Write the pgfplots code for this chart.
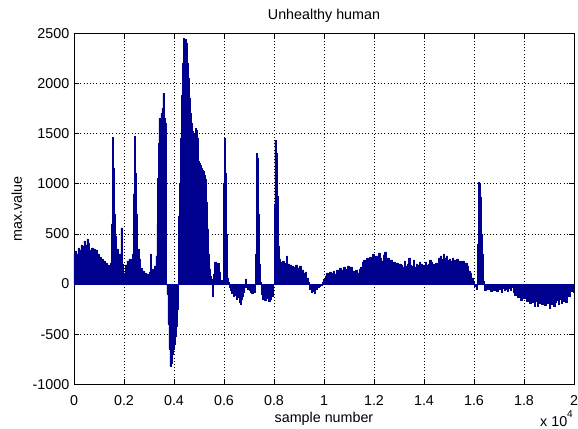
\documentclass[border=0pt]{standalone}
\usepackage{fontspec}
\setmainfont{Liberation Sans}
\usepackage{pgfplots}
\pgfplotsset{compat=1.18}
\usepackage{pgfplotstable}
\definecolor{barblue}{RGB}{0,0,143}
\newcommand\ff{\fontsize{14.3bp}{17bp}\selectfont}
\pgfplotstableread{
x y
0 300
40 330
100 300
160 360
220 340
280 390
340 380
400 430
460 390
520 450
580 410
620 340
700 360
780 350
860 340
940 300
1000 270
1080 250
1160 230
1240 210
1320 190
1400 170
1460 210
1500 600
1540 1460
1580 1150
1620 700
1660 480
1700 350
1760 260
1820 300
1880 560
1920 200
1960 60
2000 110
2060 190
2120 230
2200 250
2280 240
2340 300
2380 900
2420 1470
2460 1100
2500 700
2540 350
2600 250
2660 160
2720 130
2800 110
2880 100
2960 90
3020 120
3060 300
3100 150
3160 140
3220 180
3280 280
3320 600
3340 1050
3380 1400
3400 1650
3440 1600
3480 1700
3520 1750
3560 1900
3600 1650
3640 1600
3680 1150
3700 0
3720 -100
3760 -400
3800 -650
3840 -820
3880 -790
3920 -700
3960 -650
4000 -600
4040 -520
4080 -420
4120 -250
4160 680
4200 1000
4240 1450
4280 1880
4320 2200
4360 2450
4400 2420
4440 2440
4480 2400
4520 2200
4560 2050
4600 1850
4640 1700
4680 1600
4720 1520
4760 1480
4800 1500
4840 1550
4880 1530
4920 1450
4960 1220
5000 1200
5040 1180
5080 1150
5120 1130
5160 1120
5200 1080
5240 1040
5280 1000
5300 820
5340 550
5380 300
5420 150
5460 80
5500 50
5540 -120
5580 100
5620 220
5680 200
5740 210
5800 120
5860 40
5920 20
5960 300
5980 1000
6000 1450
6040 1100
6080 500
6120 60
6160 20
6200 -30
6240 -60
6300 -90
6360 -120
6420 -110
6480 -150
6540 -130
6600 -180
6640 -200
6680 -150
6720 -120
6760 -80
6800 -30
6840 50
6880 -30
6920 -50
6960 -30
7000 -60
7040 -80
7100 -90
7160 -80
7200 -60
7240 -80
7260 300
7280 900
7300 1300
7330 1250
7360 700
7400 200
7440 20
7480 -100
7520 -150
7600 -160
7680 -140
7760 -170
7840 -150
7900 -120
7960 0
8000 800
8030 1430
8070 1300
8110 880
8150 500
8180 380
8220 250
8260 220
8340 230
8400 200
8460 210
8500 280
8540 200
8620 190
8700 180
8780 170
8860 190
8940 160
9020 180
9100 140
9180 110
9240 120
9300 60
9360 20
9420 -50
9480 -80
9540 -70
9600 -90
9660 -50
9720 -30
9800 -20
9860 -10
9920 20
9980 50
10040 80
10100 110
10160 90
10220 120
10300 110
10360 130
10420 100
10500 140
10560 130
10620 160
10700 140
10780 170
10860 150
10940 180
11000 140
11060 170
11140 130
11200 110
11260 140
11320 110
11400 150
11460 170
11520 220
11580 240
11640 210
11700 260
11760 230
11820 270
11880 240
11940 300
12000 250
12060 280
12120 220
12180 310
12240 260
12300 230
12360 290
12420 320
12480 250
12540 260
12600 230
12660 240
12720 200
12780 220
12840 190
12900 210
12960 180
13020 200
13080 190
13140 170
13200 230
13260 180
13320 200
13380 260
13440 190
13500 180
13560 240
13620 170
13680 200
13740 190
13800 220
13860 200
13920 180
13980 190
14040 220
14100 190
14160 200
14220 240
14280 220
14340 200
14400 190
14460 210
14520 190
14580 260
14640 280
14700 250
14760 300
14820 260
14880 280
14940 240
15000 250
15060 230
15120 260
15180 240
15240 220
15300 250
15360 210
15420 230
15480 200
15540 230
15600 200
15660 210
15720 180
15780 130
15840 110
15900 60
15960 30
16020 -20
16080 -50
16120 -40
16140 400
16160 1010
16200 1000
16240 870
16280 500
16320 300
16360 30
16420 -60
16480 -40
16540 -50
16600 -20
16660 -70
16720 -40
16780 -60
16840 -30
16900 -70
16960 -40
17020 -50
17080 -80
17140 -40
17200 -60
17260 -50
17320 -70
17380 -40
17440 -60
17500 -30
17560 -80
17620 -110
17680 -90
17740 -130
17800 -100
17860 -160
17920 -120
17980 -140
18040 -110
18100 -170
18160 -150
18220 -190
18280 -160
18340 -180
18400 -220
18460 -170
18520 -220
18580 -190
18640 -170
18700 -200
18760 -180
18820 -210
18880 -160
18940 -190
19000 -240
19060 -200
19120 -170
19180 -220
19240 -180
19300 -160
19360 -200
19420 -150
19480 -190
19540 -170
19600 -120
19660 -180
19720 -60
19780 -120
19840 -50
19900 -70
19960 -80
20000 -80
}\datatable
\begin{document}
\begin{tikzpicture}
\useasboundingbox (-74bp,-44.7bp) rectangle (504bp,384.3bp);
\begin{axis}[
  at={(0,0)}, anchor=south west,
  scale only axis, width=500bp, height=351bp,
  clip mode=individual,
  xmin=0, xmax=20000, ymin=-1000, ymax=2500,
  xtick={0,2000,4000,6000,8000,10000,12000,14000,16000,18000,20000},
  xticklabels={0,0.2,0.4,0.6,0.8,1,1.2,1.4,1.6,1.8,2},
  ytick={-1000,-500,0,500,1000,1500,2000,2500},
  yticklabels={-1000,-500,0,500,1000,1500,2000,2500},
  scaled ticks=false,
  tick align=inside,
  xtick pos=both, ytick pos=both,
  major tick length=5bp,
  tick style={black, line width=0.6bp},
  axis line style={black, line width=0.8bp},
  grid=major,
  major grid style={black, line width=0.6bp, dash pattern=on 1bp off 2.2bp},
  xticklabel style={font=\ff, anchor=base, inner sep=0pt, yshift=-21bp},
  yticklabel style={font=\ff, anchor=east, inner sep=0pt, xshift=-4.5bp},
  title={Unhealthy human},
  title style={font=\ff, at={(axis description cs:0.5,1.0237)}, anchor=base, inner sep=0pt},
  xlabel={sample number},
  xlabel style={font=\ff, at={(axis description cs:0.5,-0.110)}, anchor=base, inner sep=0pt},
  ylabel={max.value},
  ylabel style={font=\ff, at={(axis description cs:-0.1146,0.5)}, anchor=center, inner sep=0pt},
]
\addplot[const plot, fill=barblue, draw=barblue, line width=0.5bp] table[x=x,y=y] {\datatable} \closedcycle;
\node[font=\ff, anchor=base west, inner sep=0pt] at (axis description cs:0.932,-0.1188) {x 10\raisebox{1.1ex}{\fontsize{10bp}{12bp}\selectfont 4}};
\end{axis}
\end{tikzpicture}
\end{document}
